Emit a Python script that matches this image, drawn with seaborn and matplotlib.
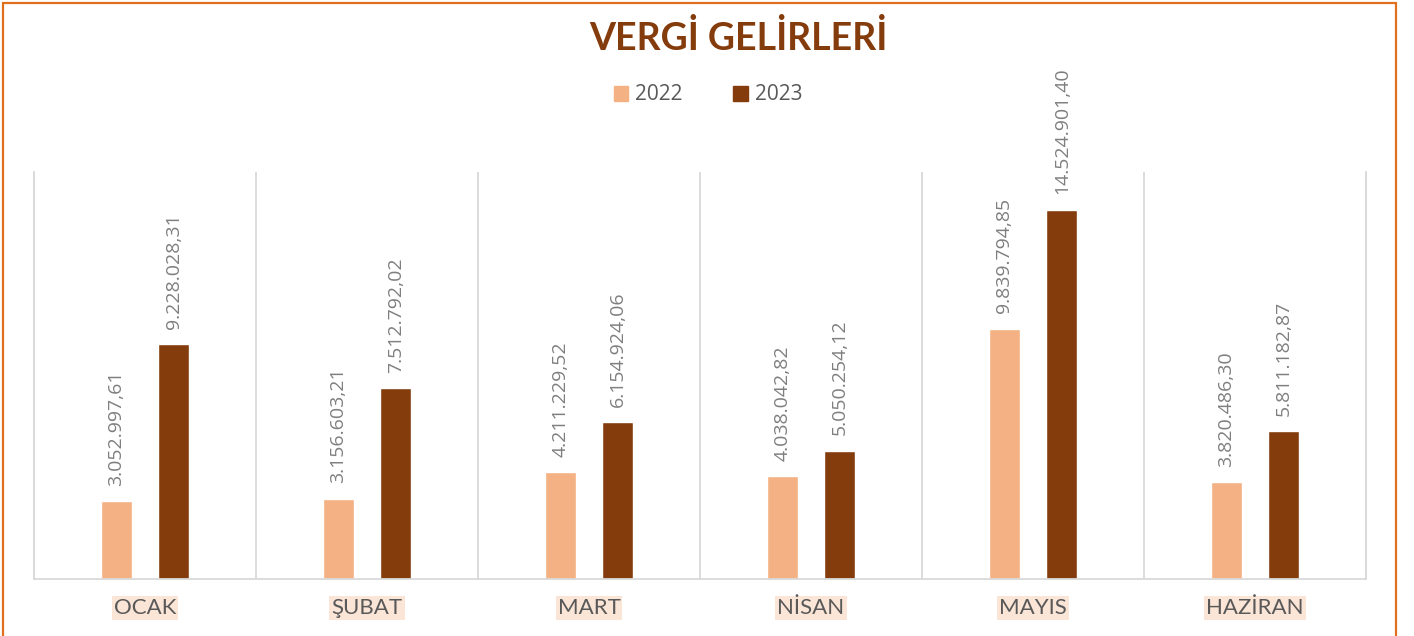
#!/usr/bin/env python

import numpy as np
import pandas as pd
import matplotlib.pyplot as plt
import matplotlib.patches as mpatches
import seaborn as sns

sns.set_theme(style="white")
plt.rcParams["font.family"] = ["Open Sans", "DejaVu Sans"]

# ========== DATA ==========

months = ["OCAK", "ŞUBAT", "MART", "NİSAN", "MAYIS", "HAZİRAN"]
years = ["2022", "2023"]
values_2022 = [3052997.61, 3156603.21, 4211229.52, 4038042.82, 9839794.85, 3820486.30]
values_2023 = [9228028.31, 7512792.02, 6154924.06, 5050254.12, 14524901.40, 5811182.87]

colors = {"2022": "#F4B183", "2023": "#843C0C"}


def tr_format(v):
    # 9228028.31 -> 9.228.028,31
    s = f"{v:,.2f}"
    return s.replace(",", "X").replace(".", ",").replace("X", ".")


df = pd.DataFrame({
    "month": months * 2,
    "year": [years[0]] * len(months) + [years[1]] * len(months),
    "value": values_2022 + values_2023,
})

# ========== PLOT ==========

fig = plt.figure(figsize=(14.14, 6.36), dpi=100)
ax = fig.add_axes([34 / 1414, 57 / 636, 1332 / 1414, 407 / 636])

sns.barplot(data=df, x="month", y="value", hue="year", palette=colors,
            width=0.52, gap=0.46, saturation=1, legend=False, ax=ax)

for container, vals in zip(ax.containers, [values_2022, values_2023]):
    ax.bar_label(container, labels=[tr_format(v) for v in vals], rotation=90,
                 padding=11, color="#7F7F7F", fontsize=14)

ax.set_xlim(-0.5, len(months) - 0.5)
ax.set_ylim(0, 16000000)
ax.set_yticks([])
ax.set_xlabel("")
ax.set_ylabel("")

# vertical separators between months
ax.set_xticks(np.arange(-0.5, len(months)), minor=True)
ax.grid(which="minor", axis="x", color="#D9D9D9", linewidth=1.3)
ax.tick_params(axis="x", which="minor", length=0)

ax.spines["top"].set_visible(False)
for side in ["left", "right", "bottom"]:
    ax.spines[side].set_color("#D9D9D9")
    ax.spines[side].set_linewidth(1.3)

ax.tick_params(axis="x", which="major", length=0, pad=14)
for lbl in ax.get_xticklabels():
    lbl.set_fontfamily(["Lato", "DejaVu Sans"])
    lbl.set_fontsize(16)
    lbl.set_color("#595959")
    lbl.set_bbox(dict(facecolor="#FBE5D6", edgecolor="none", pad=1.5))

# title and legend
fig.text(738 / 1414, 1 - 38 / 636, "VERGİ GELİRLERİ", ha="center", va="center",
         fontsize=27, fontweight="bold", color="#843C0C",
         family=["Lato", "DejaVu Sans"])

handles = [mpatches.Patch(color=colors[y], label=y) for y in years]
fig.legend(handles=handles, loc="center", bbox_to_anchor=(708 / 1414, 1 - 95 / 636),
           ncol=2, frameon=False, fontsize=15, handlelength=0.7, handleheight=0.7,
           handletextpad=0.35, columnspacing=2.4, labelcolor="#595959")

# orange frame around the chart area
fig.patches.append(mpatches.Rectangle((3 / 1414, -0.02), 1393 / 1414, 1.02 - 3 / 636,
                                      transform=fig.transFigure, fill=False,
                                      edgecolor="#E0701E", linewidth=1.6))

fig.savefig("out.png", dpi=100)
